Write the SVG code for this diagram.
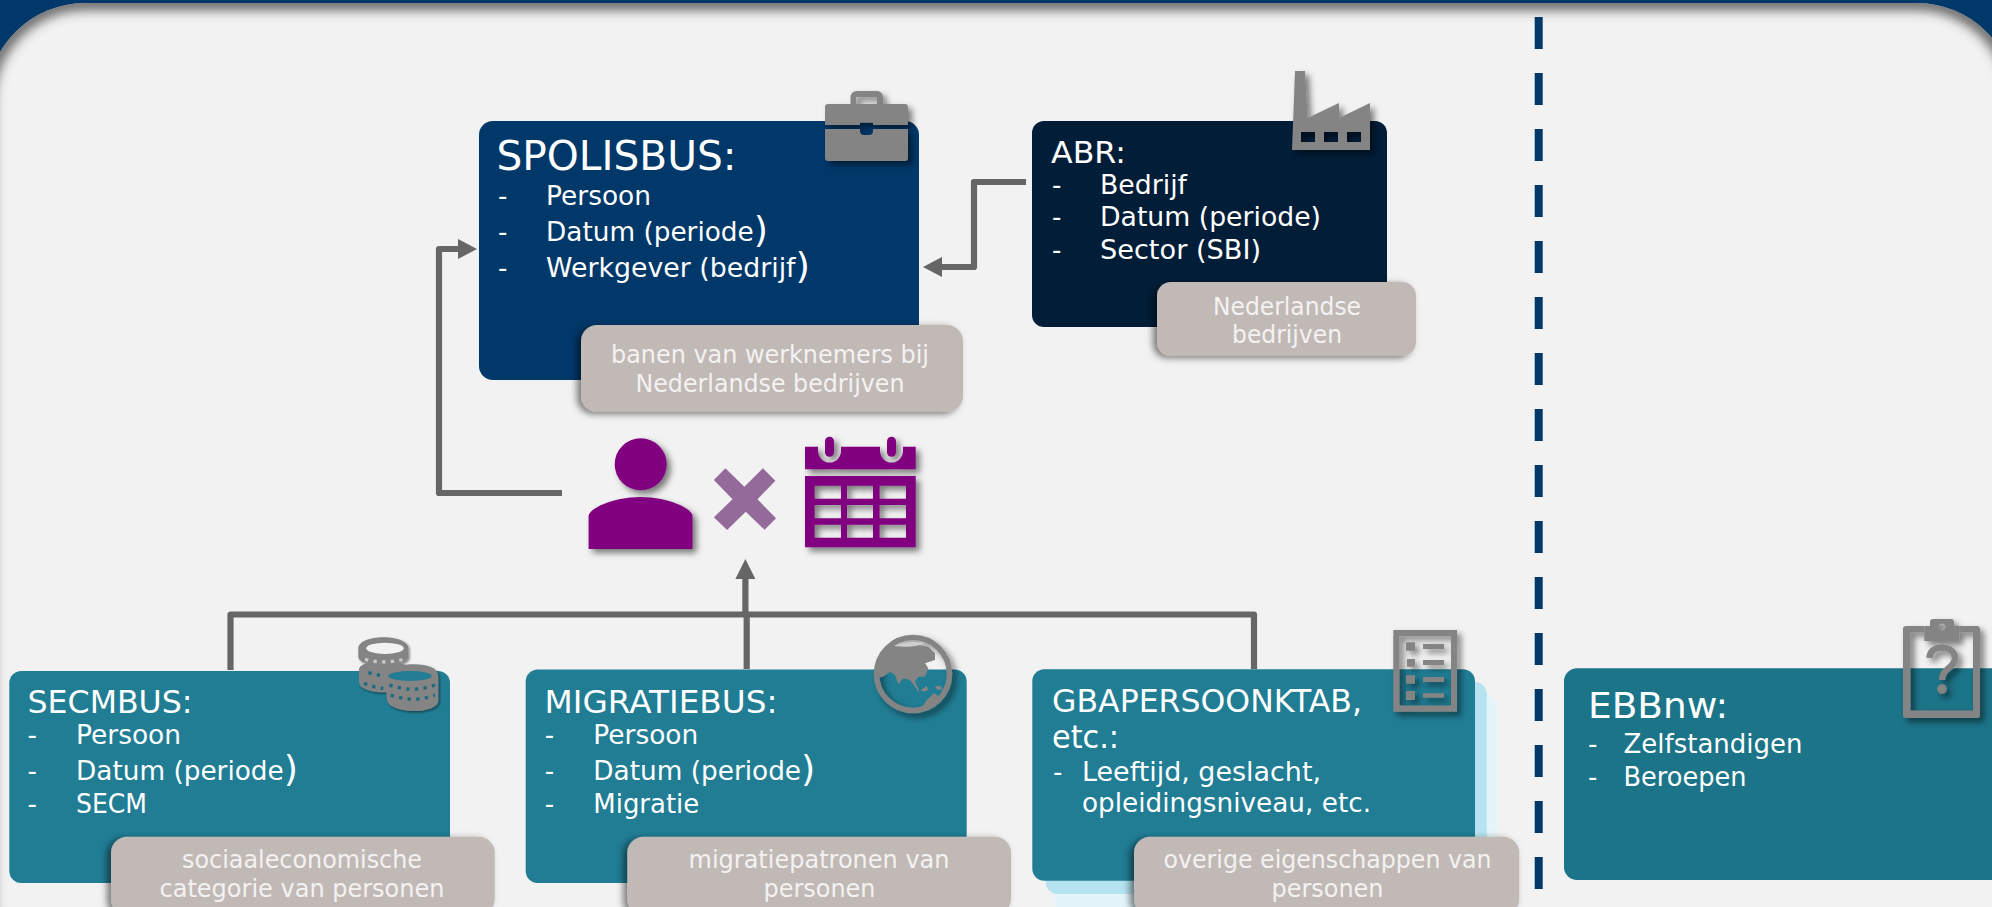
<svg xmlns="http://www.w3.org/2000/svg" width="1992" height="907" viewBox="0 0 1992 907">
<style>
text{font-family:"DejaVu Sans",Verdana,sans-serif;fill:#fff}
.t{font-size:32px}.l{font-size:26px}
.tag{fill:#c1b9b6}.tt{font-size:24px;fill:#f4f2f1;text-anchor:middle}
.teal{fill:#207d94}
.ic{fill:#848484;fill-rule:evenodd}
.pu{fill:#800080;fill-rule:evenodd}
.c{fill:none;stroke:#666;stroke-width:6.2;stroke-linejoin:round}
.h{fill:#666}
.p{font-size:35px}
.tooth{fill:none;stroke:#1c6c80;stroke-width:10;stroke-dasharray:10 16}
</style>
<defs>
<clipPath id="pc"><rect x="-13" y="3" width="2028" height="1000" rx="98" ry="98"/></clipPath>
<filter id="blur" x="-5%" y="-5%" width="110%" height="110%"><feGaussianBlur stdDeviation="6"/></filter>
<filter id="ts" x="-10%" y="-15%" width="120%" height="130%"><feDropShadow dx="-4" dy="2" stdDeviation="3.500" flood-color="#000" flood-opacity=".5"/></filter>
<filter id="is" x="-20%" y="-20%" width="150%" height="150%"><feDropShadow dx="4" dy="4" stdDeviation="3" flood-color="#000" flood-opacity=".5"/></filter>
</defs>
<rect id="header" width="1992" height="907" fill="#00386a"/>
<g id="panel">
<rect x="-13" y="3" width="2028" height="1000" rx="98" ry="98" fill="#f2f2f2"/>
<g clip-path="url(#pc)"><rect x="-13" y="3" width="2028" height="1000" rx="98" ry="98" fill="none" stroke="#484848" stroke-width="14" stroke-opacity=".85" filter="url(#blur)"/></g>
</g>
<line id="divider" x1="1538.700" y1="17" x2="1538.700" y2="889" stroke="#00386a" stroke-width="8" stroke-dasharray="32 24"/>

<g id="connectors">
<path class="c" d="M562 493H439V249H459"/><polygon class="h" points="458,239 477,249 458,259"/>
<path class="c" d="M1026 182H974V267H941"/><polygon class="h" points="942,257 923,267 942,277"/>
<path class="c" d="M230.500 670V614.500H1254V669"/>
<path class="c" d="M746.700 669V614M745.400 614V578"/><polygon class="h" points="735.400,579 745.400,559 755.400,579"/>
</g>

<g id="spolisbus">
<rect x="479" y="121" width="440" height="259" rx="14" fill="#00386a"/>
<text x="496.500" y="170" font-size="40" textLength="240" lengthAdjust="spacingAndGlyphs">SPOLISBUS:</text>
<text x="498" y="205" class="l">-</text><text x="546" y="205" class="l" textLength="105" lengthAdjust="spacingAndGlyphs">Persoon</text>
<text x="498" y="241" class="l">-</text><text x="546" y="241" class="l" textLength="222" lengthAdjust="spacingAndGlyphs">Datum (periode<tspan font-size="36" dy="1">)</tspan></text>
<text x="498" y="277" class="l">-</text><text x="546" y="277" class="l" textLength="264" lengthAdjust="spacingAndGlyphs">Werkgever (bedrijf<tspan font-size="36" dy="1">)</tspan></text>
<g filter="url(#is)"><path class="ic" d="M828 104H905a3 3 0 0 1 3 3V125H873V122.700H860V125H825V107a3 3 0 0 1 3-3ZM825 129H860V131a4 4 0 0 0 4 4H869a4 4 0 0 0 4-4V129H908V158a3 3 0 0 1-3 3H828a3 3 0 0 1-3-3ZM850.500 104V97a6 6 0 0 1 6-6H877a6 6 0 0 1 6 6V104H877V97H856V104Z"/></g>
<rect class="tag" x="581" y="325" width="382" height="87" rx="16" filter="url(#ts)"/>
<text class="tt" x="770" y="363" textLength="318" lengthAdjust="spacingAndGlyphs">banen van werknemers bij</text>
<text class="tt" x="770" y="392" textLength="269" lengthAdjust="spacingAndGlyphs">Nederlandse bedrijven</text>
</g>

<g id="abr">
<rect x="1032" y="121" width="355" height="206" rx="12" fill="#011d38"/>
<text x="1051" y="163" font-size="30" textLength="75" lengthAdjust="spacingAndGlyphs">ABR:</text>
<text x="1052" y="194" class="l">-</text><text x="1100" y="194" class="l" textLength="87" lengthAdjust="spacingAndGlyphs">Bedrijf</text>
<text x="1052" y="226" class="l">-</text><text x="1100" y="226" class="l" textLength="221" lengthAdjust="spacingAndGlyphs">Datum (periode)</text>
<text x="1052" y="259" class="l">-</text><text x="1100" y="259" class="l" textLength="161" lengthAdjust="spacingAndGlyphs">Sector (SBI)</text>
<g filter="url(#is)"><path class="ic" d="M1295 71H1305L1307.500 118L1339 103V118L1370 103V150H1292ZM1301 132V142H1315V132ZM1324 132V142H1338V132ZM1347 132V142H1361V132Z"/></g>
<rect class="tag" x="1157" y="282" width="259" height="74" rx="14" filter="url(#ts)"/>
<text class="tt" x="1287" y="315" textLength="148" lengthAdjust="spacingAndGlyphs">Nederlandse</text>
<text class="tt" x="1287" y="343" textLength="110" lengthAdjust="spacingAndGlyphs">bedrijven</text>
</g>

<g id="person-x-time">
<g filter="url(#is)"><ellipse class="pu" cx="640.700" cy="464.300" rx="26" ry="26"/>
<path class="pu" d="M588.600 549V516C588.600 509 612 497 640.600 497S692.500 509 692.500 516V549Z"/></g>
<polygon fill="#936a9a" points="725.400,468.300 744.300,486.700 762.900,468.300 775.400,480.700 757.500,499.300 776,518.300 764.600,529.700 745.700,511.700 727.100,530 713.900,517.300 732.500,499.300 713.900,480"/>
<g filter="url(#is)">
<path class="pu" d="M805 446.700H818V451a11.500 11.500 0 0 0 23 0V446.700H880V451a11.500 11.500 0 0 0 23 0V446.700H915.700V469.300H805Z"/>
<rect class="pu" x="825" y="436.700" width="9" height="20" rx="4.500"/>
<rect class="pu" x="887" y="436.700" width="9" height="20" rx="4.500"/>
<path class="pu" d="M805 476H915.700V547.300H805ZM814.600 485.700V498.700H841V485.700ZM847 485.700V498.700H873V485.700ZM879.600 485.700V498.700H906V485.700ZM814.600 505V518.300H841V505ZM847 505V518.300H873V505ZM879.600 505V518.300H906V505ZM814.600 524.700V537.700H841V524.700ZM847 524.700V537.700H873V524.700ZM879.600 524.700V537.700H906V524.700Z"/>
</g>
</g>

<g id="secmbus">
<rect class="teal" x="9.300" y="671" width="440.700" height="212" rx="12"/>
<text x="27.500" y="712.700" class="t" textLength="165" lengthAdjust="spacingAndGlyphs">SECMBUS:</text>
<text x="27.500" y="744" class="l">-</text><text x="76" y="744" class="l" textLength="105" lengthAdjust="spacingAndGlyphs">Persoon</text>
<text x="27.500" y="780" class="l">-</text><text x="76" y="780" class="l" textLength="222" lengthAdjust="spacingAndGlyphs">Datum (periode<tspan font-size="36" dy="1">)</tspan></text>
<text x="27.500" y="813" class="l">-</text><text x="76" y="813" class="l" textLength="71" lengthAdjust="spacingAndGlyphs">SECM</text>
<g transform="translate(350 630) scale(.3333)" filter="url(#is)">
<path fill="#848484" d="M27 120C27 100 60 95 105 95S185 105 185 125V160C185 175 150 187 105 187S27 175 27 155Z"/>
<path fill="#848484" d="M25 55C25 35 60 22 100 22S175 35 175 55V80C175 95 140 108 100 108S25 95 25 80Z"/>
<ellipse cx="105" cy="55" rx="56" ry="17" fill="#f2f2f2"/>
<path fill="#848484" d="M110 135C110 115 145 103 190 103S265 115 265 140V212C265 232 230 243 190 243S110 230 110 205Z"/>
<ellipse cx="180" cy="138" rx="65" ry="15" fill="#207d94"/>
<path class="tooth" style="stroke:#c9c9c9" d="M45 88Q105 105 170 85"/>
<path class="tooth" d="M55 128L100 138"/>
<path class="tooth" d="M42 160Q70 172 100 175"/>
<path class="tooth" d="M118 165Q190 190 255 165"/>
<path class="tooth" d="M122 195Q190 220 255 195"/>
</g>
<rect class="tag" x="111" y="836.700" width="383.700" height="78" rx="16" filter="url(#ts)"/>
<text class="tt" x="302" y="868" textLength="240" lengthAdjust="spacingAndGlyphs">sociaaleconomische</text>
<text class="tt" x="302" y="896.700" textLength="285" lengthAdjust="spacingAndGlyphs">categorie van personen</text>
</g>

<g id="migratiebus">
<rect class="teal" x="525.700" y="669.500" width="441" height="213.500" rx="12"/>
<text x="544.500" y="712.700" class="t" textLength="233" lengthAdjust="spacingAndGlyphs">MIGRATIEBUS:</text>
<text x="544.700" y="744" class="l">-</text><text x="593.300" y="744" class="l" textLength="105" lengthAdjust="spacingAndGlyphs">Persoon</text>
<text x="544.700" y="780" class="l">-</text><text x="593.300" y="780" class="l" textLength="222" lengthAdjust="spacingAndGlyphs">Datum (periode<tspan font-size="36" dy="1">)</tspan></text>
<text x="544.700" y="813" class="l">-</text><text x="593.300" y="813" class="l" textLength="106" lengthAdjust="spacingAndGlyphs">Migratie</text>
<g filter="url(#is)"><circle cx="913" cy="674" r="36.500" fill="none" stroke="#848484" stroke-width="5.500"/></g>
<path class="ic" d="M876 678.300L883.300 676.700L890 671.700L895 675L898.300 684.300L903.300 678.300L910 680L915 686.700L919.300 693.300L918.300 688.300L915 681.700L918.300 676.700L925 676.700L928.300 668.300L925 663.300L935 660L935 653.300L928.300 646.700L910 643.300L896.700 646.700L891.700 645L880 653.300L876 666.700Z"/>
<path class="ic" d="M921 690L926.700 686L928.300 690L923.300 691.700ZM935 686L940 685.700L942.700 689L937.300 690ZM922.700 706L926.700 700L934 693.300L938.700 696.300L934.700 703.700L928.300 706.700Z"/>
<path fill="#d0d0d0" d="M895 645.500Q908 640 925 643L918 645.500Q905 648 895 645.500Z"/>
<rect class="tag" x="627.300" y="836.700" width="383.700" height="78" rx="16" filter="url(#ts)"/>
<text class="tt" x="819" y="868" textLength="261" lengthAdjust="spacingAndGlyphs">migratiepatronen van</text>
<text class="tt" x="819.500" y="896.700" textLength="112" lengthAdjust="spacingAndGlyphs">personen</text>
</g>

<g id="gbapersoonktab">
<rect x="1055" y="694" width="441.700" height="225" rx="14" fill="#e3f4fa"/>
<rect x="1045.700" y="682" width="441" height="212" rx="12" fill="#b5e3ef"/>
<rect class="teal" x="1032.300" y="669.300" width="442.700" height="211.400" rx="12"/>
<text x="1052" y="711.700" class="t" textLength="310" lengthAdjust="spacingAndGlyphs">GBAPERSOONKTAB,</text>
<text x="1052" y="747.700" class="t" textLength="67" lengthAdjust="spacingAndGlyphs">etc.:</text>
<text x="1053" y="780.700" class="l">-</text><text x="1082" y="780.700" class="l" textLength="239" lengthAdjust="spacingAndGlyphs">Leeftijd, geslacht,</text>
<text x="1082" y="811.700" class="l" textLength="289" lengthAdjust="spacingAndGlyphs">opleidingsniveau, etc.</text>
<g filter="url(#is)">
<path class="ic" d="M1393.300 630H1457V711.700H1393.300ZM1399.500 636V705.500H1451V636Z"/>
<path class="ic" d="M1406 642.300H1415V650.700H1406ZM1407 659H1415V666.700H1407ZM1406 675.300H1415V683.700H1406ZM1406 691H1415V700H1406ZM1423 644H1444V649H1423ZM1423 660H1444V665H1423ZM1423 677H1444V682H1423ZM1423 693.300H1444V697.700H1423Z"/>
</g>
<rect class="tag" x="1134" y="836.700" width="385.300" height="78" rx="16" filter="url(#ts)"/>
<text class="tt" x="1327.500" y="868" textLength="328" lengthAdjust="spacingAndGlyphs">overige eigenschappen van</text>
<text class="tt" x="1327.500" y="896.700" textLength="112" lengthAdjust="spacingAndGlyphs">personen</text>
</g>

<g id="ebbnw">
<rect x="1564" y="668.300" width="460" height="211.700" rx="13" fill="#1c7489"/>
<text x="1588" y="718.300" class="p" textLength="140" lengthAdjust="spacingAndGlyphs">EBBnw:</text>
<text x="1588" y="753" class="l">-</text><text x="1623.500" y="753" class="l" textLength="179" lengthAdjust="spacingAndGlyphs">Zelfstandigen</text>
<text x="1588" y="785.700" class="l">-</text><text x="1623.500" y="785.700" class="l" textLength="123" lengthAdjust="spacingAndGlyphs">Beroepen</text>
<g filter="url(#is)">
<path class="ic" d="M1906 626H1924.300V632.500H1910.500V710.500H1973V632.500H1959.300V626H1977a3 3 0 0 1 3 3V715a3 3 0 0 1-3 3H1906a3 3 0 0 1-3-3V629a3 3 0 0 1 3-3Z"/>
<path class="ic" d="M1924.300 641V626H1930V622a3 3 0 0 1 3-3H1951a3 3 0 0 1 3 3V626H1959.300V641ZM1942 623.500a3.500 3.500 0 1 0 .01 0Z"/>
<path d="M1929.500 658C1930 651 1935 647.500 1942 647.500S1955 652 1955 658C1955 668 1942 668 1942 680" fill="none" stroke="#848484" stroke-width="6.500"/>
<circle cx="1942" cy="689" r="4.800" fill="#848484"/>
</g>
</g>
</svg>
